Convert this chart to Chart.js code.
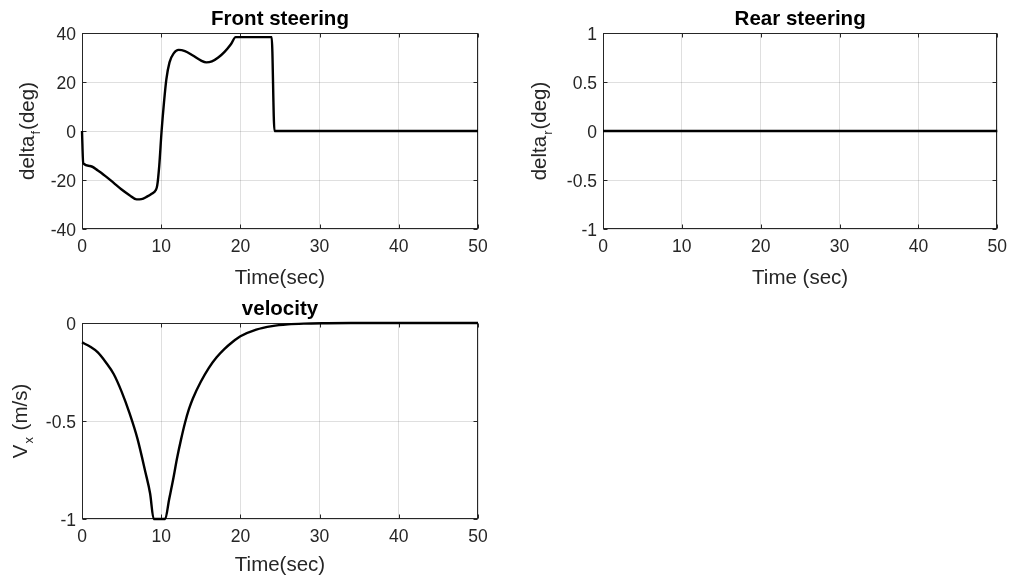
<!DOCTYPE html>
<html><head><meta charset="utf-8">
<script src="https://cdn.jsdelivr.net/npm/chart.js@4.4.1/dist/chart.umd.min.js"></script>
<style>
html,body{margin:0;padding:0;background:#fff;}
body{width:1015px;height:584px;position:relative;overflow:hidden;}
canvas{position:absolute;}
</style></head><body>
<canvas id="c1" style="left:0px;top:0px" width="500" height="300"></canvas>
<canvas id="c2" style="left:500px;top:0px" width="515" height="300"></canvas>
<canvas id="c3" style="left:0px;top:290px" width="500" height="294"></canvas>
<script>
// ---- data ----
const timeTicks = [0, 10, 20, 30, 40, 50];
const frontTicks = [-40, -20, 0, 20, 40];
const rearTicks = [-1, -0.5, 0, 0.5, 1];
const velTicks = [-1, -0.5, 0];

const frontTime  = [0, 0.15, 1, 2, 3, 4, 5, 6, 6.9, 7.5, 8.2, 8.8, 9.3, 9.5, 9.75, 10.05, 10.35, 10.65, 11.05, 11.6, 12.2, 13, 14, 15, 15.7, 16.4, 17.2, 18, 18.8, 19.4, 23.95, 24.3, 50];
const frontDelta = [0, -13.2, -14.3, -16.1, -18.5, -21.2, -23.9, -26.2, -27.9, -27.8, -26.8, -25.6, -24.2, -22.2, -14.3, 0, 11.6, 21.1, 28, 31.8, 33.1, 32.6, 30.8, 28.8, 28, 28.4, 30, 32.3, 35.4, 38.3, 38.3, 0, 0];

const rearTime  = [0, 50];
const rearDelta = [0, 0];

const velTime   = [0, 1, 2, 3, 4, 5, 6, 7, 8, 8.6, 9.05, 10.5, 11, 11.5, 12, 12.5, 13, 13.5, 14, 15, 16, 17, 18, 19, 20, 22, 24, 26, 28, 31, 34, 50];
const velValues = [-0.099, -0.12, -0.15, -0.2, -0.26, -0.35, -0.46, -0.59, -0.76, -0.87, -1, -1, -0.9, -0.8, -0.69, -0.595, -0.51, -0.44, -0.385, -0.3, -0.23, -0.175, -0.132, -0.097, -0.068, -0.034, -0.016, -0.007, -0.003, -0.001, 0, 0];

// ---- rendering ----
const FONT = '"Liberation Sans", Arial, Helvetica, sans-serif';
const AX = '#262626';

const decor = {
  id: 'decor',
  beforeDatasetsDraw(chart, args, o) {
    const {ctx, chartArea: a, scales: {x, y}} = chart;
    const L = Math.round(a.left) + 0.5, R = Math.round(a.right) - 0.5;
    const T = Math.round(a.top) + 0.5, B = Math.round(a.bottom) - 0.5;
    ctx.save();
    ctx.strokeStyle = AX; ctx.lineWidth = 1;
    ctx.beginPath();
    const tl = 4;
    x.ticks.forEach(t => {
      const px = Math.round(x.getPixelForValue(t.value)) + 0.5;
      ctx.moveTo(px, B); ctx.lineTo(px, B - tl);
      ctx.moveTo(px, T); ctx.lineTo(px, T + tl);
    });
    y.ticks.forEach(t => {
      const py = Math.round(y.getPixelForValue(t.value)) + 0.5;
      ctx.moveTo(L, py); ctx.lineTo(L + tl, py);
      ctx.moveTo(R, py); ctx.lineTo(R - tl, py);
    });
    ctx.stroke();
    ctx.strokeRect(L, T, R - L, B - T);

    // title
    ctx.fillStyle = '#000';
    ctx.textAlign = 'center';
    ctx.textBaseline = 'alphabetic';
    ctx.font = 'bold 20.5px ' + FONT;
    const cx = (a.left + a.right) / 2;
    ctx.fillText(o.title, cx, o.titleY);

    // x label
    ctx.fillStyle = AX;
    ctx.font = '20.5px ' + FONT;
    ctx.fillText(o.xLabel, cx, o.xLabelY);

    // y label with subscript
    const cy = (a.top + a.bottom) / 2;
    ctx.save();
    ctx.translate(o.yLabelX, cy);
    ctx.rotate(-Math.PI / 2);
    ctx.textAlign = 'left';
    const mainF = '20.5px ' + FONT, subF = '13px ' + FONT;
    let total = 0;
    o.yParts.forEach(p => {
      ctx.font = p.sub ? subF : mainF;
      total += ctx.measureText(p.text).width + (p.sub ? 2 : 0);
    });
    let cur = -total / 2;
    o.yParts.forEach(p => {
      ctx.font = p.sub ? subF : mainF;
      if (p.sub) {
        ctx.fillText(p.text, cur + 1, 6);
        cur += ctx.measureText(p.text).width + 2;
      } else {
        ctx.fillText(p.text, cur, 0);
        cur += ctx.measureText(p.text).width;
      }
    });
    ctx.restore();
    ctx.restore();
  }
};

function makeChart(id, times, values, yTicks, opts) {
  const canvas = document.getElementById(id);
  const W = canvas.width, H = canvas.height;
  const pts = times.map((t, i) => ({x: t, y: values[i]}));
  return new Chart(canvas, {
    type: 'line',
    data: { datasets: [{
      data: pts,
      borderColor: '#000',
      borderWidth: 2.4,
      pointRadius: 0,
      fill: false,
      cubicInterpolationMode: 'monotone',
      borderJoinStyle: 'round',
      clip: 6
    }]},
    options: {
      responsive: false,
      animation: false,
      devicePixelRatio: 1,
      layout: { padding: { left: 0, right: W - opts.right, top: opts.top, bottom: 0 } },
      plugins: {
        legend: { display: false },
        tooltip: { enabled: false },
        decor: opts.decor
      },
      scales: {
        x: {
          type: 'linear',
          min: timeTicks[0], max: timeTicks[timeTicks.length - 1],
          ticks: { stepSize: timeTicks[1] - timeTicks[0], padding: 8, color: AX,
                   font: { family: FONT, size: 17.5 }, maxRotation: 0,
                   callback: v => String(v) },
          grid: { color: 'rgba(38,38,38,0.15)', drawTicks: false, lineWidth: 1 },
          border: { display: false },
          afterFit: s => { s.height = H - opts.bottom; }
        },
        y: {
          type: 'linear',
          min: yTicks[0], max: yTicks[yTicks.length - 1],
          ticks: { stepSize: yTicks[1] - yTicks[0], padding: 6, color: AX, labelOffset: 2,
                   font: { family: FONT, size: 17.5 },
                   callback: v => String(v) },
          grid: { color: 'rgba(38,38,38,0.15)', drawTicks: false, lineWidth: 1 },
          border: { display: false },
          afterFit: s => { s.width = opts.left; }
        }
      }
    },
    plugins: [decor]
  });
}

makeChart('c1', frontTime, frontDelta, frontTicks, {
  left: 82, right: 478, top: 33, bottom: 229,
  decor: { title: 'Front steering', titleY: 25, xLabel: 'Time(sec)', xLabelY: 284, yLabelX: 33.5,
           yParts: [{text: 'delta'}, {text: 'f', sub: true}, {text: '(deg)'}] }
});
makeChart('c2', rearTime, rearDelta, rearTicks, {
  left: 103, right: 498, top: 33, bottom: 229,
  decor: { title: 'Rear steering', titleY: 25, xLabel: 'Time (sec)', xLabelY: 284, yLabelX: 45.5,
           yParts: [{text: 'delta'}, {text: 'r', sub: true}, {text: '(deg)'}] }
});
makeChart('c3', velTime, velValues, velTicks, {
  left: 82, right: 478, top: 33, bottom: 229,
  decor: { title: 'velocity', titleY: 25, xLabel: 'Time(sec)', xLabelY: 281, yLabelX: 26.5,
           yParts: [{text: 'V'}, {text: 'x', sub: true}, {text: ' (m/s)'}] }
});
</script>
</body></html>
